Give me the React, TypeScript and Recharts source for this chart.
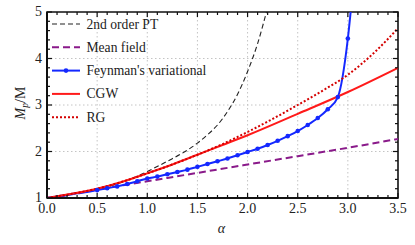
import React from "react";
import {
  LineChart,
  Line,
  XAxis,
  YAxis,
  CartesianGrid,
  Legend,
  Label,
  ReferenceArea,
} from "recharts";

// alpha values and M_p/M
const alphaPT = [0, 0.2, 0.4, 0.6, 0.8, 1.0, 1.2, 1.4, 1.5, 1.6, 1.7, 1.8, 1.9, 2.0, 2.1, 2.2];
const massPT = [1, 1.07, 1.14, 1.24, 1.38, 1.57, 1.79, 2.03, 2.18, 2.36, 2.57, 2.86, 3.23, 3.72, 4.32, 5.1];

const alphaMF = [0, 0.5, 1, 1.5, 2, 2.5, 3, 3.5];
const massMF = [1, 1.18, 1.36, 1.54, 1.72, 1.9, 2.08, 2.27];

const alphaFV = [
  0, 0.1, 0.2, 0.3, 0.4, 0.5, 0.6, 0.7, 0.8, 0.9, 1.0, 1.1, 1.2, 1.3, 1.4, 1.5,
  1.6, 1.7, 1.8, 1.9, 2.0, 2.1, 2.2, 2.3, 2.4, 2.5, 2.6, 2.7, 2.8, 2.9, 3.0, 3.05,
];
const massFV = [
  1, 1.03, 1.06, 1.1, 1.13, 1.17, 1.21, 1.25, 1.3, 1.36, 1.42, 1.46, 1.51, 1.56, 1.61, 1.67,
  1.73, 1.79, 1.85, 1.92, 1.99, 2.06, 2.14, 2.23, 2.33, 2.44, 2.57, 2.72, 2.91, 3.17, 4.43, 5.5,
];

const alphaCGW = [0, 0.25, 0.5, 0.75, 1, 1.25, 1.5, 1.75, 2, 2.5, 3, 3.5];
const massCGW = [1, 1.09, 1.2, 1.35, 1.53, 1.72, 1.93, 2.14, 2.35, 2.81, 3.28, 3.8];

const alphaRG = [0, 0.25, 0.5, 0.75, 1, 1.25, 1.5, 1.75, 2, 2.25, 2.5, 2.75, 3, 3.25, 3.5];
const massRG = [1, 1.09, 1.2, 1.35, 1.53, 1.72, 1.93, 2.16, 2.42, 2.7, 3.0, 3.31, 3.65, 4.1, 4.65];

const xMajor = [0, 0.5, 1, 1.5, 2, 2.5, 3, 3.5];
const yMajor = [1, 2, 3, 4, 5];
const xTicks = Array.from({ length: 36 }, (_, i) => Math.round(i) / 10);
const yTicks = Array.from({ length: 21 }, (_, i) => Math.round(10 + i * 2) / 10);

const toPoints = (xs: number[], ys: number[]) => xs.map((a, i) => ({ a, m: ys[i] }));

const FONT = "'Liberation Serif', 'DejaVu Serif', serif";
const W = 415;
const H = 245;
const MARGIN = { top: 12, right: 17, bottom: 0, left: 0 };
const PLOT_TOP = MARGIN.top;
const PLOT_RIGHT = W - MARGIN.right;
const TICK = "#111";

const series = [
  { name: "2nd order PT", color: "#222", width: 1.1, dash: "5 3", dot: false },
  { name: "Mean field", color: "#8a1a8a", width: 2, dash: "7 4", dot: false },
  { name: "Feynman's variational", color: "#1428ff", width: 2, dash: undefined, dot: true },
  { name: "CGW", color: "#ff1a1a", width: 2, dash: undefined, dot: false },
  { name: "RG", color: "#d40000", width: 2, dash: "2 2", dot: false },
];

const isMajor = (v: number, step: number) => Math.abs(v / step - Math.round(v / step)) < 1e-6;

// bottom tick also draws the matching tick on the top edge of the frame
function XTick({ x, y, payload }: any) {
  const major = isMajor(payload.value, 0.5);
  const len = major ? 5 : 3;
  return (
    <g>
      <rect x={x - 0.6} y={y - len} width={1.2} height={len} fill={TICK} />
      <rect x={x - 0.6} y={PLOT_TOP} width={1.2} height={len} fill={TICK} />
      {major && (
        <text x={x} y={y + 15} textAnchor="middle" fontFamily={FONT} fontSize={14} fill="#222">
          {payload.value.toFixed(1)}
        </text>
      )}
    </g>
  );
}

// left tick also draws the matching tick on the right edge of the frame
function YTick({ x, y, payload }: any) {
  const major = isMajor(payload.value, 1);
  const len = major ? 5 : 3;
  return (
    <g>
      <rect x={x} y={y - 0.6} width={len} height={1.2} fill={TICK} />
      <rect x={PLOT_RIGHT - len} y={y - 0.6} width={len} height={1.2} fill={TICK} />
      {major && (
        <text x={x - 5} y={y + 4} textAnchor="end" fontFamily={FONT} fontSize={14} fill="#222">
          {payload.value}
        </text>
      )}
    </g>
  );
}

function FeynmanDot(props: any) {
  const { cx, cy, payload, index } = props;
  if (payload.a < 0.45 || payload.a > 3.01) return <g key={`fd-${index}`} />;
  return <circle key={`fd-${index}`} cx={cx} cy={cy} r={2.3} fill="#1428ff" />;
}

function LegendBox() {
  return (
    <svg width={180} height={120} style={{ display: "block" }}>
      {series.map((s, i) => {
        const cy = 12 + i * 23.3;
        return (
          <g key={s.name}>
            <line
              x1={6}
              x2={34}
              y1={cy}
              y2={cy}
              stroke={s.color}
              strokeWidth={s.width}
              strokeDasharray={s.dash}
            />
            {s.dot && <circle cx={20} cy={cy} r={2.3} fill={s.color} />}
            <text x={40.5} y={cy + 4.5} fontFamily={FONT} fontSize={13.6} fill="#222">
              {s.name}
            </text>
          </g>
        );
      })}
    </svg>
  );
}

function YLabel({ viewBox }: any) {
  const cx = 25;
  const cy = viewBox.y + viewBox.height / 2 - 2;
  return (
    <text
      x={cx}
      y={cy}
      transform={`rotate(-90 ${cx} ${cy})`}
      textAnchor="middle"
      fontFamily={FONT}
      fontSize={14}
      fill="#222"
    >
      <tspan fontStyle="italic">M</tspan>
      <tspan fontStyle="italic" fontSize={9.5} dy={3}>p</tspan>
      <tspan dy={-3}>/M</tspan>
    </text>
  );
}

export default function App() {
  const datasets = [
    toPoints(alphaPT, massPT),
    toPoints(alphaMF, massMF),
    toPoints(alphaFV, massFV),
    toPoints(alphaCGW, massCGW),
    toPoints(alphaRG, massRG),
  ];

  return (
    <div style={{ position: "absolute", left: 0, top: 0, background: "#fff" }}>
      <LineChart width={W} height={H} margin={MARGIN}>
        <CartesianGrid
          verticalValues={xMajor.slice(1, -1)}
          horizontalValues={yMajor.slice(1, -1)}
          stroke="#c4c4c4"
          strokeDasharray="1.5 2.5"
        />
        <XAxis
          dataKey="a"
          type="number"
          domain={[0, 3.5]}
          ticks={xTicks}
          interval={0}
          tickSize={0}
          tickMargin={0}
          tickLine={false}
          tick={<XTick />}
          height={47}
          axisLine={{ stroke: "#000", strokeWidth: 1.5 }}
          allowDataOverflow
        >
          <Label
            content={({ viewBox }: any) => (
              <text
                x={viewBox.x + viewBox.width / 2 - 1}
                y={233}
                textAnchor="middle"
                fontFamily={FONT}
                fontStyle="italic"
                fontSize={14}
                fill="#222"
              >
                α
              </text>
            )}
          />
        </XAxis>
        <YAxis
          type="number"
          domain={[1, 5]}
          ticks={yTicks}
          interval={0}
          tickSize={0}
          tickMargin={0}
          tickLine={false}
          tick={<YTick />}
          width={47}
          axisLine={{ stroke: "#000", strokeWidth: 1.5 }}
          allowDataOverflow
        >
          <Label content={<YLabel />} />
        </YAxis>
        {/* frame around the plot area */}
        <ReferenceArea
          x1={0}
          x2={3.5}
          y1={1}
          y2={5}
          fill="none"
          fillOpacity={0}
          stroke="#111"
          strokeWidth={1.6}
          strokeOpacity={1}
          ifOverflow="visible"
        />
        {series.map((s, i) => (
          <Line
            key={s.name}
            data={datasets[i]}
            dataKey="m"
            name={s.name}
            type="monotone"
            stroke={s.color}
            strokeWidth={s.width}
            strokeDasharray={s.dash}
            dot={s.dot ? (p: any) => <FeynmanDot {...p} /> : false}
            activeDot={false}
            isAnimationActive={false}
          />
        ))}
        <Legend
          layout="vertical"
          align="center"
          verticalAlign="middle"
          wrapperStyle={{ left: 46, top: 12, width: 180, height: 120 }}
          content={() => <LegendBox />}
        />
      </LineChart>
    </div>
  );
}
